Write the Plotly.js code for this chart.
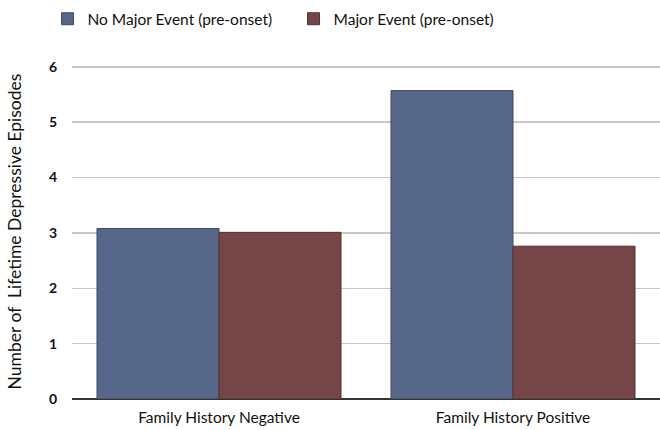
<!DOCTYPE html>
<html>
<head>
<meta charset="utf-8">
<script src="https://cdn.plot.ly/plotly-3.0.1.min.js"></script>
<style>html,body{margin:0;padding:0;background:#fff;}#chart{width:660px;height:430px;}</style>
</head>
<body>
<div id="chart"></div>
<script>
const categories = ["Family History Negative", "Family History Positive"];
const seriesNames = ["No Major Event (pre-onset)", "Major Event (pre-onset)"];
const noMajorEvent = [3.08, 5.57];
const majorEvent = [3.01, 2.76];
const yTicks = [0, 1, 2, 3, 4, 5, 6];
const yTickLabels = ["0", "1", "2", "3", "4", "5", "6"];

const font = "Lato, 'Open Sans', sans-serif";
const traces = [
  {type: "bar", name: seriesNames[0], x: categories, y: noMajorEvent,
   marker: {color: "#56678a", line: {color: "#3e4a63", width: 1}}},
  {type: "bar", name: seriesNames[1], x: categories, y: majorEvent,
   marker: {color: "#764547", line: {color: "#553234", width: 1}}}
];
const layout = {
  width: 660, height: 430,
  margin: {l: 72, r: 0, t: 64, b: 31},
  paper_bgcolor: "#fff", plot_bgcolor: "#fff",
  barmode: "group", bargap: 0.17, bargroupgap: 0,
  font: {family: font, color: "#111", size: 13},
  showlegend: true,
  legend: {orientation: "h", x: 0.072, xanchor: "left", y: 0.995, yanchor: "top",
           xref: "container", yref: "container",
           font: {size: 15.5, family: font, color: "#111"}, itemwidth: 30,
           traceorder: "normal", entrywidth: 201},
  xaxis: {type: "category", range: [-0.5, 1.5], showgrid: false, zeroline: false,
          showline: false, ticks: "", ticklabelstandoff: 7,
          tickfont: {size: 15.5, family: font}, fixedrange: true},
  yaxis: {range: [0, 6.05], tickvals: yTicks, ticktext: yTickLabels, showgrid: true,
          gridcolor: "#c8c8c8", gridwidth: 1.5, zeroline: true, zerolinecolor: "#333",
          zerolinewidth: 2, showline: false, ticks: "", ticklabelstandoff: 14,
          tickfont: {size: 14, family: font, weight: "bold"},
          title: {text: "Number of  Lifetime Depressive Episodes", font: {size: 17.5, family: font}, standoff: 22}}
};
Plotly.newPlot("chart", traces, layout, {displayModeBar: false, staticPlot: true});
</script>
</body>
</html>
